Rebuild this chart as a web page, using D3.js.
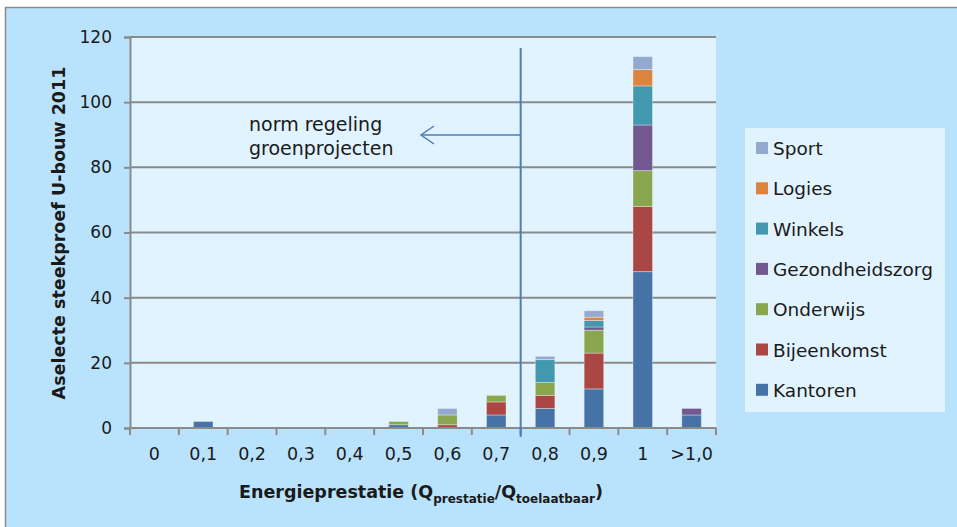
<!DOCTYPE html>
<html><head><meta charset="utf-8">
<script src="https://cdn.jsdelivr.net/npm/d3@7"></script>
<style>
body{margin:0;background:#fff;}
svg{display:block;}
text{font-family:"DejaVu Sans",Verdana,sans-serif;fill:#1a1a1a;}
</style></head><body>
<svg id="c" width="957" height="527"></svg>
<script>
const categories = ["0","0,1","0,2","0,3","0,4","0,5","0,6","0,7","0,8","0,9","1",">1,0"];
const seriesNames = ["Kantoren","Bijeenkomst","Onderwijs","Gezondheidszorg","Winkels","Logies","Sport"];
const Kantoren        = [0,2,0,0,0,1,0,4,6,12,48,4];
const Bijeenkomst     = [0,0,0,0,0,0,1,4,4,11,20,0];
const Onderwijs       = [0,0,0,0,0,1,3,2,4,7,11,0];
const Gezondheidszorg = [0,0,0,0,0,0,0,0,0,1,14,2];
const Winkels         = [0,0,0,0,0,0,0,0,7,2,12,0];
const Logies          = [0,0,0,0,0,0,0,0,0,1,5,0];
const Sport           = [0,0,0,0,0,0,2,0,1,2,4,0];
const yTicks = [0,20,40,60,80,100,120];
const normValue = 0.75; // position between 0,7 and 0,8
const colors = ["#4572a7","#aa4643","#89a54e","#71588f","#4198af","#db843d","#93a9cf"];

const seriesData = [Kantoren,Bijeenkomst,Onderwijs,Gezondheidszorg,Winkels,Logies,Sport];
const rows = categories.map((c,i)=>{const o={cat:c}; seriesNames.forEach((s,j)=>o[s]=seriesData[j][i]); return o;});

const svg = d3.select("#c");
svg.append("rect").attr("x",5.5).attr("y",7.5).attr("width",960).attr("height",530)
  .attr("fill","#b9e3fd").attr("stroke","#8c8c8c").attr("stroke-width",1.5);

const L=130,R=716,T=37,B=428;
const xb = d3.scaleBand().domain(categories).range([L,R]);
const y = d3.scaleLinear().domain([0,120]).range([B,T]);

svg.append("rect").attr("x",L).attr("y",T).attr("width",R-L).attr("height",B-T).attr("fill","#e1f3fe");

svg.append("g").selectAll("line").data(yTicks.filter(d=>d>0)).join("line")
  .attr("x1",L).attr("x2",R).attr("y1",d=>y(d)).attr("y2",d=>y(d))
  .attr("stroke","#8a8a8a").attr("stroke-width",2);

const stack = d3.stack().keys(seriesNames)(rows);
const bw = xb.bandwidth()*0.4;
svg.append("g").selectAll("g").data(stack).join("g").attr("fill",(d,i)=>colors[i])
  .selectAll("rect").data(d=>d.filter(p=>p[1]-p[0]>0)).join("rect")
  .attr("x",d=>xb(d.data.cat)+xb.bandwidth()/2-bw/2).attr("width",bw)
  .attr("y",d=>y(d[1])).attr("height",d=>y(d[0])-y(d[1]))
  .attr("stroke","rgba(255,255,255,0.35)").attr("stroke-width",1);

const yAxis = d3.axisLeft(y).tickValues(yTicks).tickSize(6).tickPadding(8);
const gy = svg.append("g").attr("transform",`translate(${L},0)`).call(yAxis);
gy.select(".domain").attr("stroke","#8a8a8a").attr("stroke-width",2);
gy.selectAll(".tick line").attr("stroke","#8a8a8a").attr("stroke-width",2);
gy.selectAll(".tick text").attr("font-family","'Liberation Sans Narrow','Arial Narrow',sans-serif")
  .attr("font-size",17).attr("fill","#1a1a1a").attr("x",-18);

const xAxis = d3.axisBottom(xb).tickSize(0).tickPadding(0);
const gx = svg.append("g").attr("transform",`translate(0,${B})`).call(xAxis);
gx.select(".domain").remove();
gx.selectAll(".tick text").attr("font-size",17.5).attr("fill","#1a1a1a").attr("dy",null).attr("y",32);
svg.append("line").attr("x1",L).attr("x2",R).attr("y1",B).attr("y2",B).attr("stroke","#8a8a8a").attr("stroke-width",2);
svg.append("g").selectAll("line").data(d3.range(categories.length+1)).join("line")
  .attr("x1",i=>L+i*xb.step()).attr("x2",i=>L+i*xb.step())
  .attr("y1",B).attr("y2",B+7).attr("stroke","#8a8a8a").attr("stroke-width",2);

const nx = xb("0,7")+xb.bandwidth()*(normValue*10-7+0.5);
svg.append("line").attr("x1",nx).attr("x2",nx).attr("y1",48).attr("y2",437)
  .attr("stroke","#4a7ebb").attr("stroke-width",2);
svg.append("line").attr("x1",nx).attr("x2",421).attr("y1",135).attr("y2",135).attr("stroke","#4a7ebb").attr("stroke-width",1.5);
svg.append("path").attr("d","M434,126 L421,135 L434,144").attr("fill","none").attr("stroke","#4a7ebb").attr("stroke-width",1.5);
svg.append("text").attr("x",249).attr("y",131).attr("font-size",19).text("norm regeling");
svg.append("text").attr("x",249).attr("y",155).attr("font-size",19).text("groenprojecten");

svg.append("text").attr("transform","translate(65,233) rotate(-90)").attr("text-anchor","middle")
  .attr("font-size",17.5).attr("font-weight","bold").text("Aselecte steekproef U-bouw 2011");
const xt = svg.append("text").attr("x",421).attr("y",498).attr("text-anchor","middle")
  .attr("font-size",17.5).attr("font-weight","bold");
xt.append("tspan").text("Energieprestatie (Q");
xt.append("tspan").attr("font-size",12).attr("dy",5).text("prestatie");
xt.append("tspan").attr("dy",-5).text("/Q");
xt.append("tspan").attr("font-size",12).attr("dy",5).text("toelaatbaar");
xt.append("tspan").attr("dy",-5).text(")");

svg.append("rect").attr("x",745).attr("y",128).attr("width",200).attr("height",284).attr("fill","#e1f3fe");
const legOrder = seriesNames.slice().reverse();
const lg = svg.append("g").selectAll("g").data(legOrder).join("g")
  .attr("transform",(d,i)=>`translate(756,${148+i*40.3})`);
lg.append("rect").attr("x",0).attr("y",-6).attr("width",12).attr("height",12)
  .attr("fill",d=>colors[seriesNames.indexOf(d)]);
lg.append("text").attr("x",17).attr("y",7).attr("font-size",18.5).text(d=>d);
</script></body></html>
